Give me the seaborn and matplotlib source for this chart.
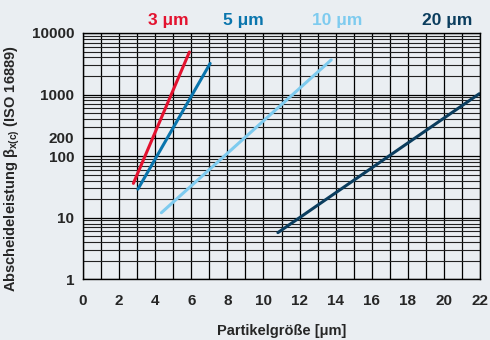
import matplotlib
matplotlib.use("Agg")
import matplotlib.pyplot as plt
import matplotlib.ticker as mticker
import pandas as pd
import seaborn as sns

# filter curves: start / end points
series = ["3 μm", "5 μm", "10 μm", "20 μm"]
x_start = [2.8, 3.05, 4.35, 10.8]
x_end = [5.9, 7.05, 13.75, 21.95]
beta_start = [36, 29, 12, 5.7]
beta_end = [4900, 3200, 3650, 1030]
colors = ["#e3122f", "#0a75ad", "#7ecbef", "#0b3d5e"]
label_x = [4.75, 8.9, 14.1, 20.2]

y_ticks = [1, 10, 100, 200, 1000, 10000]
x_ticks = list(range(0, 23, 2))

rows = []
for name, x0, x1, b0, b1 in zip(series, x_start, x_end, beta_start, beta_end):
    rows.append({"size": x0, "beta": b0, "filter": name})
    rows.append({"size": x1, "beta": b1, "filter": name})
df = pd.DataFrame(rows)

sns.set_style("white")
bg = "#eaeef2"
plt.rcParams["font.family"] = ["Liberation Sans", "DejaVu Sans"]
plt.rcParams["font.weight"] = "bold"
plt.rcParams["mathtext.fontset"] = "custom"
plt.rcParams["mathtext.bf"] = "Liberation Sans:bold"
plt.rcParams["mathtext.rm"] = "Liberation Sans:bold"
plt.rcParams["mathtext.it"] = "Liberation Sans:bold"

fig = plt.figure(figsize=(4.9, 3.4), dpi=100, facecolor=bg)
ax = fig.add_axes([0.169, 0.179, 0.811, 0.724])
ax.set_facecolor(bg)

ax.set_yscale("log")
ax.set_xlim(0, 22)
ax.set_ylim(1, 10000)

ax.xaxis.set_major_locator(mticker.FixedLocator(x_ticks))
ax.xaxis.set_minor_locator(mticker.MultipleLocator(1))
ax.yaxis.set_major_locator(mticker.FixedLocator(y_ticks))
ax.yaxis.set_major_formatter(mticker.FixedFormatter([str(t) for t in y_ticks]))
ax.yaxis.set_minor_locator(mticker.LogLocator(base=10, subs=range(2, 10)))
ax.yaxis.set_minor_formatter(mticker.NullFormatter())

ax.grid(True, which="major", axis="both", color="black", lw=0.9)
ax.grid(True, which="minor", axis="x", color="black", lw=0.9)
ax.grid(True, which="minor", axis="y", color="#222222", lw=0.8)
ax.set_axisbelow(True)

sns.lineplot(data=df, x="size", y="beta", hue="filter", palette=colors,
             hue_order=series, lw=2.2, legend=False, ax=ax)

ax.tick_params(axis="x", which="both", direction="out", length=4, width=1,
               labelsize=11, pad=7)
ax.tick_params(axis="y", which="major", direction="out", length=4, width=1,
               labelsize=11, pad=2)
ax.tick_params(axis="y", which="minor", length=0)
for lab in ax.get_xticklabels() + ax.get_yticklabels():
    lab.set_fontweight("bold")

for s in ax.spines.values():
    s.set_color("black")
    s.set_linewidth(1)

for name, lx, c in zip(series, label_x, colors):
    ax.text(lx, 1.02, name, color=c, fontsize=12.5, fontweight="bold",
            ha="center", va="bottom",
            transform=ax.get_xaxis_transform())

ax.set_xlabel("Partikelgröße [μm]", fontsize=10.5, fontweight="bold", labelpad=11)
ax.set_ylabel("Abscheideleistung β$_{x(c)}$ (ISO 16889)", fontsize=10.5,
              fontweight="bold")
ax.yaxis.set_label_coords(-0.152, 0.45)

fig.savefig("out.png", dpi=100, facecolor=bg)
